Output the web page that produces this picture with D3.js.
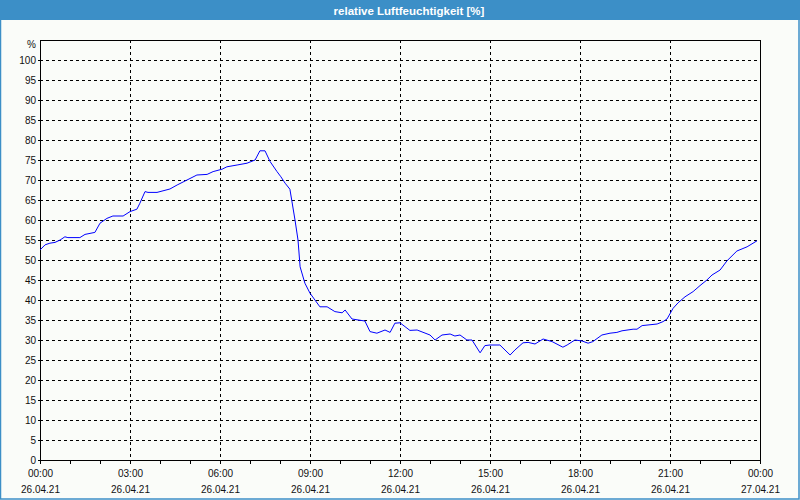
<!DOCTYPE html>
<html>
<head>
<meta charset="utf-8">
<script src="https://cdn.jsdelivr.net/npm/d3@7"></script>
<style>
  html, body { margin: 0; padding: 0; background: #fafcf9; }
  svg { display: block; }
</style>
</head>
<body>
<svg id="chart" width="800" height="500"></svg>
<script>
// ---- data ----
const title = "relative Luftfeuchtigkeit [%]";
const unitLabel = "%";
// hours since 26.04.21 00:00
const hours = [0,0.17,0.33,0.5,0.67,0.83,0.93,1.33,1.5,1.83,2,2.23,2.43,2.77,3,3.23,3.33,3.5,3.6,3.9,
  4.33,4.57,4.9,5.23,5.57,5.77,6.07,6.23,6.57,6.9,7.17,7.33,7.5,7.67,7.9,8.03,8.17,8.33,8.5,8.6,
  8.67,8.83,9,9.33,9.57,9.83,10.07,10.17,10.4,10.83,11,11.23,11.5,11.67,11.83,12,12.33,12.57,13,13.17,
  13.4,13.67,13.83,14,14.23,14.4,14.67,14.83,15,15.33,15.67,15.83,16.1,16.27,16.5,16.77,17.07,17.43,17.57,17.83,
  18.07,18.27,18.43,18.73,19,19.23,19.4,19.77,19.9,20.07,20.57,20.77,20.9,21.1,21.27,21.5,21.77,22,22.23,22.4,
  22.67,22.9,23.23,23.57,23.9];
const humidity = [52.5,53.8,54.2,54.4,55,55.8,55.6,55.6,56.4,56.9,59.2,60.4,61,61,62.1,62.7,64.2,67.1,66.9,66.9,
  67.75,68.75,70,71.25,71.4,72.1,72.7,73.3,73.75,74.2,75,77.3,77.3,74.6,72.1,70.8,69.2,67.7,60,55,
  48.3,44.2,41.7,38.3,38.3,37.1,36.8,37.5,35.25,34.75,32.1,31.7,32.5,31.9,34.2,34.3,32.4,32.5,31.25,30,
  31.25,31.5,31,31.25,30,30,26.8,28.6,28.75,28.75,26.25,27.5,29.3,29.4,29,30.25,29.6,28.2,28.75,30,
  29.75,29.2,29.6,31.25,31.7,31.9,32.3,32.7,32.7,33.6,34,34.6,35.25,37.9,39.3,40.8,42.1,43.6,45,46.25,
  47.5,49.8,52.25,53.3,54.8];
const yTicks = [0,5,10,15,20,25,30,35,40,45,50,55,60,65,70,75,80,85,90,95,100];
const xTickHours = [0,3,6,9,12,15,18,21,24];
const xTimeLabels = ["00:00","03:00","06:00","09:00","12:00","15:00","18:00","21:00","00:00"];
const xDateLabels = ["26.04.21","26.04.21","26.04.21","26.04.21","26.04.21","26.04.21","26.04.21","26.04.21","27.04.21"];
const minorHours = d3.range(0, 25, 1);

// ---- layout ----
const W = 800, H = 500;
const pLeft = 40, pRight = 760, pTop = 40, pBottom = 460;
const font = "'Liberation Sans', Arial, sans-serif";

const svg = d3.select("#chart");
const x = d3.scaleLinear().domain([0, 24]).range([pLeft, pRight]);
const y = d3.scaleLinear().domain([0, 100]).range([pBottom, pTop + 20]);

// background
svg.append("rect").attr("x", 0).attr("y", 0).attr("width", W).attr("height", H).attr("fill", "#fafcf9");
// outer frame
svg.append("rect").attr("x", 0.5).attr("y", 0.5).attr("width", W - 1.5).attr("height", H - 1.5)
  .attr("fill", "none").attr("stroke", "#3c8fc7").attr("stroke-width", 1.5);
// title bar
svg.append("rect").attr("x", 0).attr("y", 0).attr("width", W).attr("height", 20).attr("fill", "#3c8fc7");
svg.append("text").attr("x", 409).attr("y", 14.5).attr("text-anchor", "middle")
  .attr("fill", "#ffffff").attr("font-family", font).attr("font-weight", "bold").attr("font-size", "11.5px")
  .text(title);

// horizontal grid
svg.append("g").selectAll("line").data(yTicks.filter(d => d > 0)).join("line")
  .attr("x1", pLeft).attr("x2", pRight)
  .attr("y1", d => Math.round(y(d)) + 0.5).attr("y2", d => Math.round(y(d)) + 0.5)
  .attr("stroke", "#000").attr("stroke-width", 1).attr("stroke-dasharray", "3,3")
  .attr("shape-rendering", "crispEdges");
// vertical grid
svg.append("g").selectAll("line").data(xTickHours.filter(d => d > 0 && d < 24)).join("line")
  .attr("x1", d => Math.round(x(d)) + 0.5).attr("x2", d => Math.round(x(d)) + 0.5)
  .attr("y1", pTop).attr("y2", pBottom)
  .attr("stroke", "#000").attr("stroke-width", 1).attr("stroke-dasharray", "3,3")
  .attr("shape-rendering", "crispEdges");

// plot frame
svg.append("rect").attr("x", pLeft + 0.5).attr("y", pTop + 0.5).attr("width", pRight - pLeft).attr("height", pBottom - pTop)
  .attr("fill", "none").attr("stroke", "#000").attr("stroke-width", 1).attr("shape-rendering", "crispEdges");

// hourly ticks below axis
svg.append("g").selectAll("line").data(minorHours).join("line")
  .attr("x1", d => Math.round(x(d)) + 0.5).attr("x2", d => Math.round(x(d)) + 0.5)
  .attr("y1", pBottom).attr("y2", pBottom + 4)
  .attr("stroke", "#000").attr("stroke-width", 1).attr("shape-rendering", "crispEdges");
// y ticks left
svg.append("g").selectAll("line").data(yTicks).join("line")
  .attr("x1", pLeft - 2).attr("x2", pLeft)
  .attr("y1", d => Math.round(y(d)) + 0.5).attr("y2", d => Math.round(y(d)) + 0.5)
  .attr("stroke", "#000").attr("stroke-width", 1).attr("shape-rendering", "crispEdges");

// y labels
svg.append("g").selectAll("text").data(yTicks).join("text")
  .attr("x", 36).attr("y", d => y(d) + 0.5).attr("dy", "0.35em").attr("text-anchor", "end")
  .attr("font-family", font).attr("font-size", "10px").attr("fill", "#111")
  .text(d => d);
svg.append("text").attr("x", 36).attr("y", 44.5).attr("dy", "0.35em").attr("text-anchor", "end")
  .attr("font-family", font).attr("font-size", "10px").attr("fill", "#111").text(unitLabel);

// x labels
const xl = svg.append("g");
xl.selectAll("text.t").data(xTickHours).join("text").attr("class", "t")
  .attr("x", d => x(d) + 0.5).attr("y", 473).attr("dy", "0.35em").attr("text-anchor", "middle")
  .attr("font-family", font).attr("font-size", "10px").attr("fill", "#111")
  .text((d, i) => xTimeLabels[i]);
xl.selectAll("text.d").data(xTickHours).join("text").attr("class", "d")
  .attr("x", d => x(d) + 0.5).attr("y", 489.5).attr("dy", "0.35em").attr("text-anchor", "middle")
  .attr("font-family", font).attr("font-size", "10px").attr("fill", "#111")
  .text((d, i) => xDateLabels[i]);

// line
const line = d3.line().x((d, i) => x(hours[i])).y(d => y(d));
svg.append("path").datum(humidity).attr("d", line)
  .attr("fill", "none").attr("stroke", "#0000ff").attr("stroke-width", 1);
</script>
</body>
</html>
